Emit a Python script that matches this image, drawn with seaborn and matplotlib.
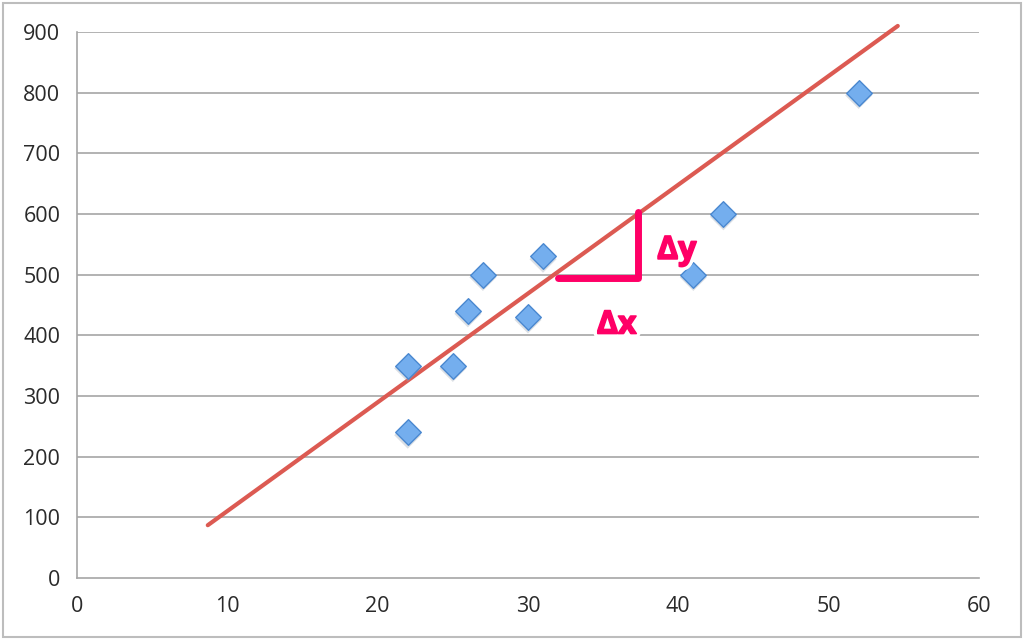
import matplotlib
matplotlib.use("Agg")
import matplotlib.pyplot as plt
import matplotlib.patheffects as pe
import matplotlib.transforms as mtrans
import seaborn as sns
import pandas as pd

# scatter points
x_vals = [22, 22, 25, 26, 27, 30, 31, 41, 43, 52]
y_vals = [350, 240, 350, 440, 500, 430, 530, 500, 600, 800]

# fitted line end points
line_x = [8.7, 54.6]
line_y = [87, 910]

# slope triangle
dx_x = [32.0, 37.3, 37.3]
dx_y = [494, 494, 603]

x_ticks = [0, 10, 20, 30, 40, 50, 60]
y_ticks = [0, 100, 200, 300, 400, 500, 600, 700, 800, 900]

df = pd.DataFrame({"x": x_vals, "y": y_vals})
tri = pd.DataFrame({"x": dx_x, "y": dx_y})

sns.set_style("white")
plt.rcParams["font.family"] = ["Open Sans", "DejaVu Sans"]

fig = plt.figure(figsize=(10.24, 6.4), dpi=100)
ax = fig.add_axes([0.0752, 0.0969, 0.8808, 0.8531])

grid_c = "#a6a6a6"
for yv in y_ticks[1:]:
    ax.axhline(yv, color=grid_c, lw=1.2, zorder=0)

sns.lineplot(x=line_x, y=line_y, ax=ax, color="#dc5a52", lw=3, zorder=2,
             estimator=None, clip_on=False)

# marker shadow then markers
shadow = ax.transData + mtrans.ScaledTranslation(0, -2 / 72, fig.dpi_scale_trans)
sns.scatterplot(data=df, x="x", y="y", ax=ax, marker="D", s=190,
                color="#9aa6b4", alpha=0.35, edgecolor="none", zorder=2,
                transform=shadow)
sns.scatterplot(data=df, x="x", y="y", ax=ax, marker="D", s=170,
                color="#74aeee", edgecolor="#4a88d0", linewidth=1.0, zorder=3)

sns.lineplot(data=tri, x="x", y="y", ax=ax, color="#ff0066", lw=5, zorder=4,
             sort=False, estimator=None, solid_capstyle="round",
             solid_joinstyle="round")

fx = [pe.SimplePatchShadow(offset=(1.5, -2), shadow_rgbFace="#777777", alpha=0.5),
      pe.withStroke(linewidth=6, foreground="white"),
      pe.withStroke(linewidth=1.2, foreground="#ff0066")]
ax.text(39.9, 540, "\u0394y", color="#ff0066", fontsize=23, fontweight="bold",
        ha="center", va="center", path_effects=fx, zorder=5)
ax.text(35.9, 417, "\u0394x", color="#ff0066", fontsize=23, fontweight="bold",
        ha="center", va="center", path_effects=fx, zorder=5)

ax.set_xlim(0, 60)
ax.set_ylim(0, 900)
ax.set_xticks(x_ticks)
ax.set_yticks(y_ticks)
ax.set_xlabel("")
ax.set_ylabel("")
for s in ["top", "right"]:
    ax.spines[s].set_visible(False)
for s in ["left", "bottom"]:
    ax.spines[s].set_color(grid_c)
    ax.spines[s].set_linewidth(1.2)
ax.tick_params(axis="both", colors=grid_c, length=6, width=1.2, direction="out",
               labelsize=15.5, labelcolor="#2a2a2a")
ax.tick_params(axis="x", pad=7)
ax.tick_params(axis="y", pad=6)

# outer frame
fig.patches.append(plt.Rectangle((0.003, 0.004), 0.994, 0.992, transform=fig.transFigure,
                                 fill=False, edgecolor="#bdbdbd", lw=1.5))

fig.savefig("out.png", dpi=100)
